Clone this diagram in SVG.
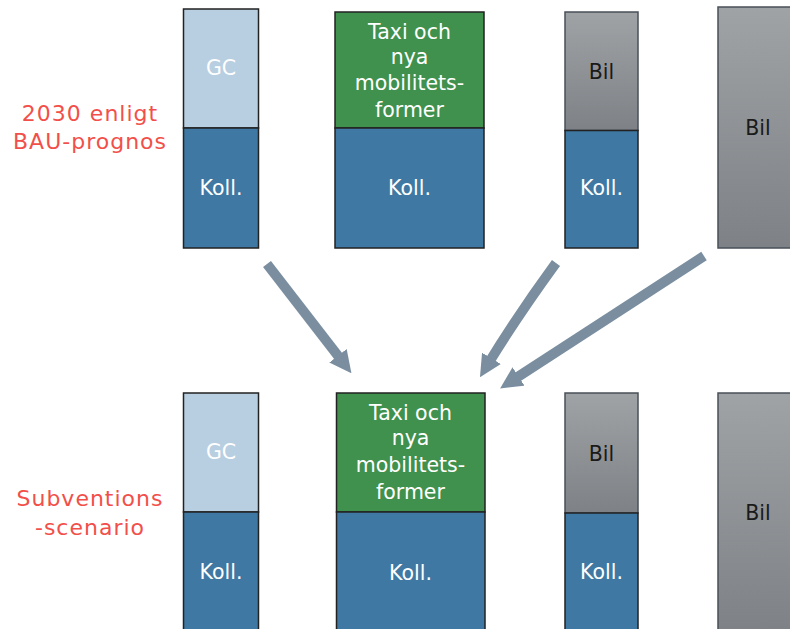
<svg xmlns="http://www.w3.org/2000/svg" width="790" height="629" viewBox="0 0 790 629">
<defs>
<linearGradient id="gray" x1="0" y1="0" x2="0" y2="1">
<stop offset="0" stop-color="#a0a3a6"/>
<stop offset="1" stop-color="#7e8185"/>
</linearGradient>
<marker id="ah" viewBox="0 0 10 10" refX="3" refY="5" markerWidth="2.2" markerHeight="2.2" orient="auto" markerUnits="strokeWidth">
<path d="M0,0 L10,5 L0,10 z" fill="#7a8ea0"/>
</marker>
<style>
.gc{fill:#b8cfe2;stroke:#222;stroke-width:1.5}
.koll{fill:#3e78a3;stroke:#222;stroke-width:1.5}
.grn{fill:#3f914d;stroke:#222;stroke-width:1.5}
.bil{fill:url(#gray);stroke:#4a5058;stroke-width:1.5}
text{font-family:"DejaVu Sans","Open Sans",sans-serif;font-size:20.5px;text-anchor:middle}
.w{fill:#fff}
.k{fill:#1a1a1a}
.lab{fill:#f24f4a;font-size:22px;letter-spacing:1px}
.arr{fill:none;stroke:#7a8ea0;stroke-width:10;marker-end:url(#ah)}
</style>
</defs>
<rect width="790" height="629" fill="#fff"/>
<g id="label-top"><text class="lab" x="90" y="121">2030 enligt</text><text class="lab" x="90" y="149">BAU-prognos</text></g>
<g id="label-bottom"><text class="lab" x="90" y="506">Subventions</text><text class="lab" x="90" y="535">-scenario</text></g>

<g id="top-gc">
<rect class="gc" x="183.5" y="9" width="75" height="119"/>
<rect class="koll" x="183.5" y="128" width="75" height="120"/>
<text class="w" x="221" y="75">GC</text>
<text class="w" x="221" y="195">Koll.</text>
</g>
<g id="top-taxi">
<rect class="grn" x="335" y="12" width="149" height="116"/>
<rect class="koll" x="335" y="128" width="149" height="120"/>
<text class="w" x="409.5" y="39">Taxi och</text>
<text class="w" x="409.5" y="64">nya</text>
<text class="w" x="409.5" y="90">mobilitets-</text>
<text class="w" x="409.5" y="117">former</text>
<text class="w" x="409.5" y="195">Koll.</text>
</g>
<g id="top-bil">
<rect class="bil" x="565" y="12" width="73" height="118.5"/>
<rect class="koll" x="565" y="130.5" width="73" height="117.5"/>
<text class="k" x="601.5" y="79">Bil</text>
<text class="w" x="601.5" y="195">Koll.</text>
</g>
<g id="top-bil-big">
<rect class="bil" x="718" y="7" width="80" height="241"/>
<text class="k" x="758" y="135">Bil</text>
</g>

<g id="bottom-gc">
<rect class="gc" x="183.5" y="393" width="75" height="119"/>
<rect class="koll" x="183.5" y="512" width="75" height="120"/>
<text class="w" x="221" y="459">GC</text>
<text class="w" x="221" y="579">Koll.</text>
</g>
<g id="bottom-taxi">
<rect class="grn" x="336.5" y="393" width="148.5" height="119"/>
<rect class="koll" x="336.5" y="512" width="148.5" height="120"/>
<text class="w" x="410.5" y="420">Taxi och</text>
<text class="w" x="410.5" y="445">nya</text>
<text class="w" x="410.5" y="472">mobilitets-</text>
<text class="w" x="410.5" y="499">former</text>
<text class="w" x="410.5" y="580">Koll.</text>
</g>
<g id="bottom-bil">
<rect class="bil" x="565" y="393" width="73" height="120"/>
<rect class="koll" x="565" y="513" width="73" height="119"/>
<text class="k" x="601.5" y="461">Bil</text>
<text class="w" x="601.5" y="579">Koll.</text>
</g>
<g id="bottom-bil-big">
<rect class="bil" x="718" y="393" width="80" height="239"/>
<text class="k" x="758" y="520">Bil</text>
</g>

<g id="connectors">
<path class="arr" d="M267,264 L342,361"/>
<path class="arr" d="M556,263 Q518,315 488,364"/>
<path class="arr" d="M704,256 L513,380"/>
</g>
</svg>
